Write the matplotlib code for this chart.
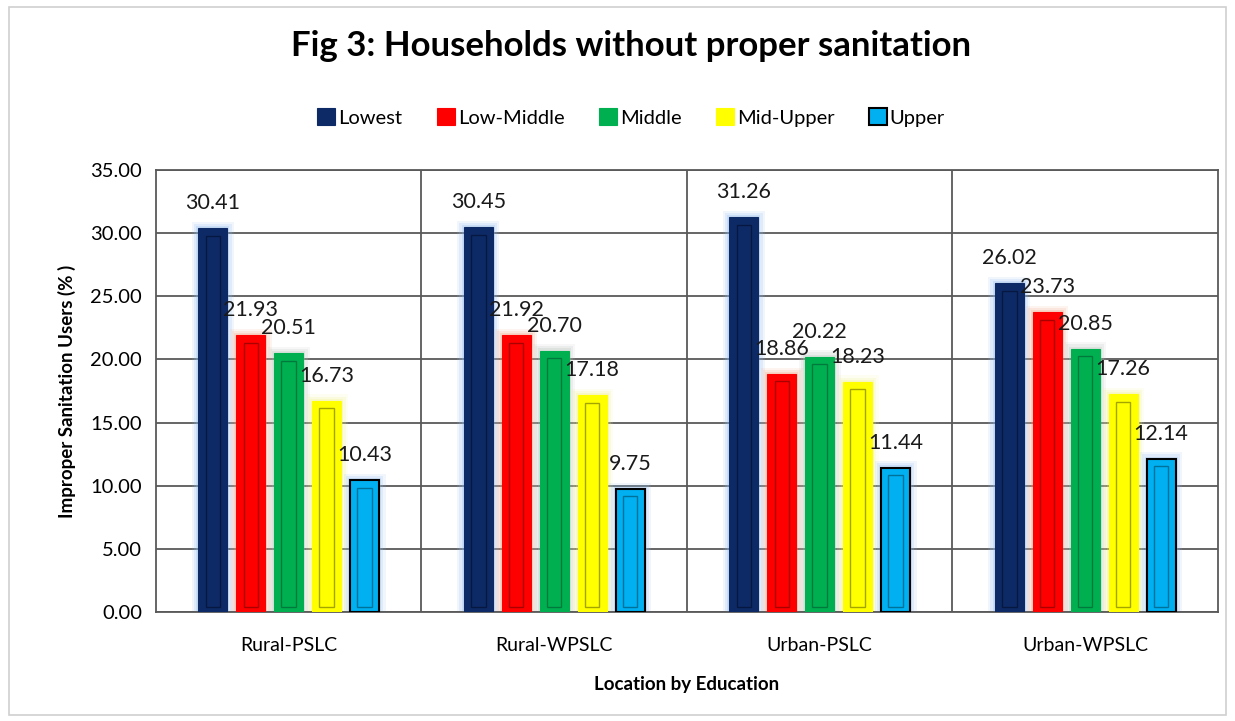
import matplotlib.pyplot as plt
import matplotlib.patches as mpatches
import numpy as np

# chart data
categories = ['Rural-PSLC', 'Rural-WPSLC', 'Urban-PSLC', 'Urban-WPSLC']
series_names = ['Lowest', 'Low-Middle', 'Middle', 'Mid-Upper', 'Upper']
lowest = [30.41, 30.45, 31.26, 26.02]
low_middle = [21.93, 21.92, 18.86, 23.73]
middle = [20.51, 20.70, 20.22, 20.85]
mid_upper = [16.73, 17.18, 18.23, 17.26]
upper = [10.43, 9.75, 11.44, 12.14]
y_ticks = [0, 5, 10, 15, 20, 25, 30, 35]

series = [lowest, low_middle, middle, mid_upper, upper]
colors = ['#0E2A66', '#FF0000', '#00B050', '#FFFF00', '#00B0F0']
dark = ['#06163D', '#A00000', '#00753A', '#9A9A00', '#006A90']
glow = ['#8FBDF0', '#F0A888', '#B8C4BA', '#F0F08C', '#8FBDF0']
edges = ['#0E2A66', '#FF0000', '#00B050', '#FFFF00', '#000000']

plt.rcParams['font.family'] = ['Lato', 'DejaVu Sans']

fig = plt.figure(figsize=(12.35, 7.21), dpi=100)
ax = fig.add_axes([0.1263, 0.1512, 0.8599, 0.613])

# light border around the whole chart
fig.patches.append(mpatches.Rectangle((0.007, 0.008), 0.986, 0.982, transform=fig.transFigure,
                                      fill=False, edgecolor='#D0D0D0', linewidth=1.2))

x = np.arange(len(categories))
step = 0.143
width = 0.109
for i, (vals, name) in enumerate(zip(series, series_names)):
    pos = x + (i - 2) * step
    # soft glow behind the bars
    for k, a in [(1.45, 0.12), (1.3, 0.18), (1.15, 0.25)]:
        ax.bar(pos, np.array(vals) + 0.5 * (k - 1) / 0.45, width=width * k, color=glow[i],
               alpha=a, linewidth=0, zorder=2)
    ax.bar(pos, vals, width=width, color=colors[i], edgecolor=edges[i],
           linewidth=1.5 if i == 4 else 0.8, label=name, zorder=3)
    # bevel look
    ax.bar(pos, np.array(vals) - 1.0, bottom=0.4, width=width * 0.5, color=colors[i],
           edgecolor=dark[i], linewidth=1.0, alpha=0.9, zorder=4)
    for px, v in zip(pos, vals):
        ax.annotate(f'{v:.2f}', (px, v), xytext=(0, 18), textcoords='offset points',
                    ha='center', va='center', fontsize=15.5, color='#1a1a1a', zorder=6)

ax.set_xlim(-0.5, len(categories) - 0.5)
ax.set_ylim(0, 35)
ax.set_yticks(y_ticks)
ax.set_yticklabels([f'{t:.2f}' for t in y_ticks], fontsize=14.5)
ax.set_xticks(x)
ax.set_xticklabels(categories, fontsize=14)
ax.tick_params(axis='y', length=0, pad=10)
ax.tick_params(axis='x', length=0, pad=18)

ax.grid(axis='y', color='#595959', linewidth=1.3, zorder=0)
for b in x[:-1] + 0.5:
    ax.axvline(b, color='#595959', linewidth=1.3, zorder=1)
ax.set_axisbelow(True)
for s in ax.spines.values():
    s.set_color('#595959')
    s.set_linewidth(1.3)

ax.set_ylabel('Improper Sanitation Users (% )', fontsize=13.5, fontweight='bold', labelpad=10)
ax.set_xlabel('Location by Education', fontsize=13.5, fontweight='bold', labelpad=16)

fig.suptitle('Fig 3: Households without proper sanitation', fontsize=25, fontweight='bold',
             x=0.511, y=0.958)
fig.legend(loc='center', bbox_to_anchor=(0.511, 0.837), ncol=5, frameon=False, fontsize=14.5,
           handlelength=0.9, handleheight=0.9, handletextpad=0.15, columnspacing=1.7)

fig.savefig('out.png', dpi=100)
